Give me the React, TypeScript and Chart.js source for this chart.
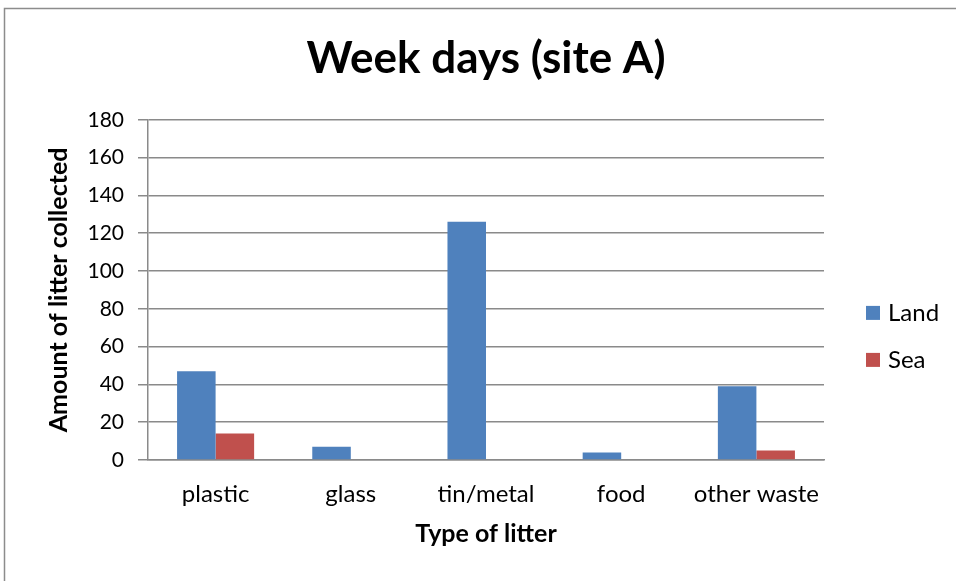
import React, { useEffect, useRef } from "react";
import { Chart, registerables } from "chart.js";

Chart.register(...registerables);

const categories = ["plastic", "glass", "tin/metal", "food", "other waste"];
const landValues = [47, 7, 126, 4, 39];
const seaValues = [14, 0, 0, 0, 5];
const seriesLabels = ["Land", "Sea"];
const seriesColors = ["#4F81BD", "#C0504D"];
const yMin = 0;
const yMax = 180;
const yStep = 20;
const chartTitle = "Week days (site A)";
const xTitle = "Type of litter";
const yTitle = "Amount of litter collected";

const FONT = "Lato, 'Open Sans', sans-serif";
const GRID = "#8a8a8a";

const framePlugin = {
  id: "frame",
  beforeDraw(chart: any) {
    const ctx = chart.ctx;
    ctx.save();
    ctx.fillStyle = "#ffffff";
    ctx.fillRect(0, 0, chart.width, chart.height);
    ctx.strokeStyle = "#8c8c8c";
    ctx.lineWidth = 1.5;
    ctx.strokeRect(4.5, 8.5, chart.width + 20, chart.height + 20);
    ctx.restore();
  },
};

const sideLegendPlugin = {
  id: "sideLegend",
  afterDraw(chart: any) {
    const ctx = chart.ctx;
    const area = chart.chartArea;
    const boxX = area.right + 42;
    const startY = (area.top + area.bottom) / 2 + 23;
    ctx.save();
    ctx.font = `24px ${FONT}`;
    ctx.textBaseline = "middle";
    ctx.textAlign = "left";
    chart.data.datasets.forEach((ds: any, i: number) => {
      const y = startY + i * 47;
      ctx.fillStyle = ds.backgroundColor;
      ctx.fillRect(boxX, y - 7, 14, 14);
      ctx.fillStyle = "#000000";
      ctx.fillText(ds.label, boxX + 22, y);
    });
    ctx.restore();
  },
};

export default function App() {
  const ref = useRef<HTMLCanvasElement | null>(null);

  useEffect(() => {
    if (!ref.current) return;
    const chart = new Chart(ref.current, {
      type: "bar",
      data: {
        labels: categories,
        datasets: [
          { label: seriesLabels[0], data: landValues, backgroundColor: seriesColors[0] },
          { label: seriesLabels[1], data: seaValues, backgroundColor: seriesColors[1] },
        ],
      },
      options: {
        responsive: false,
        animation: false,
        devicePixelRatio: 1,
        layout: { padding: { left: 40, right: 132, top: 0, bottom: 0 } },
        datasets: {
          bar: { categoryPercentage: 0.57, barPercentage: 1.0 },
        },
        plugins: {
          legend: { display: false },
          tooltip: { enabled: false },
          title: {
            display: true,
            text: chartTitle,
            fullSize: false,
            color: "#000000",
            font: { family: FONT, size: 44, weight: "bold", lineHeight: 1.2 },
            padding: { top: 32, bottom: 35 },
          },
        },
        scales: {
          x: {
            grid: { display: false, drawTicks: false },
            border: { display: true, color: GRID, width: 1.5 },
            ticks: { color: "#000000", font: { family: FONT, size: 24 }, padding: 20 },
            title: {
              display: true,
              text: xTitle,
              color: "#000000",
              font: { family: FONT, size: 25, weight: "bold", lineHeight: 1.2 },
              padding: { top: 0, bottom: 32 },
            },
            afterFit: (s: any) => {
              s.height = 121;
            },
          },
          y: {
            min: yMin,
            max: yMax,
            grid: { color: GRID, lineWidth: 1.5, drawTicks: true, tickLength: 10, tickColor: GRID },
            border: { display: true, color: GRID, width: 1.5 },
            ticks: {
              stepSize: yStep,
              color: "#000000",
              font: { family: FONT, size: 21 },
              padding: 14,
            },
            title: {
              display: true,
              text: yTitle,
              color: "#000000",
              font: { family: FONT, size: 25, weight: "bold", lineHeight: 1.2 },
              padding: { top: 4, bottom: 0 },
            },
            afterFit: (s: any) => {
              s.width = 108;
            },
          },
        },
      },
      plugins: [framePlugin, sideLegendPlugin],
    });
    return () => chart.destroy();
  }, []);

  return (
    <div style={{ position: "absolute", left: 0, top: 0, width: 956, height: 581 }}>
      <canvas ref={ref} width={956} height={581} style={{ display: "block" }} />
    </div>
  );
}
